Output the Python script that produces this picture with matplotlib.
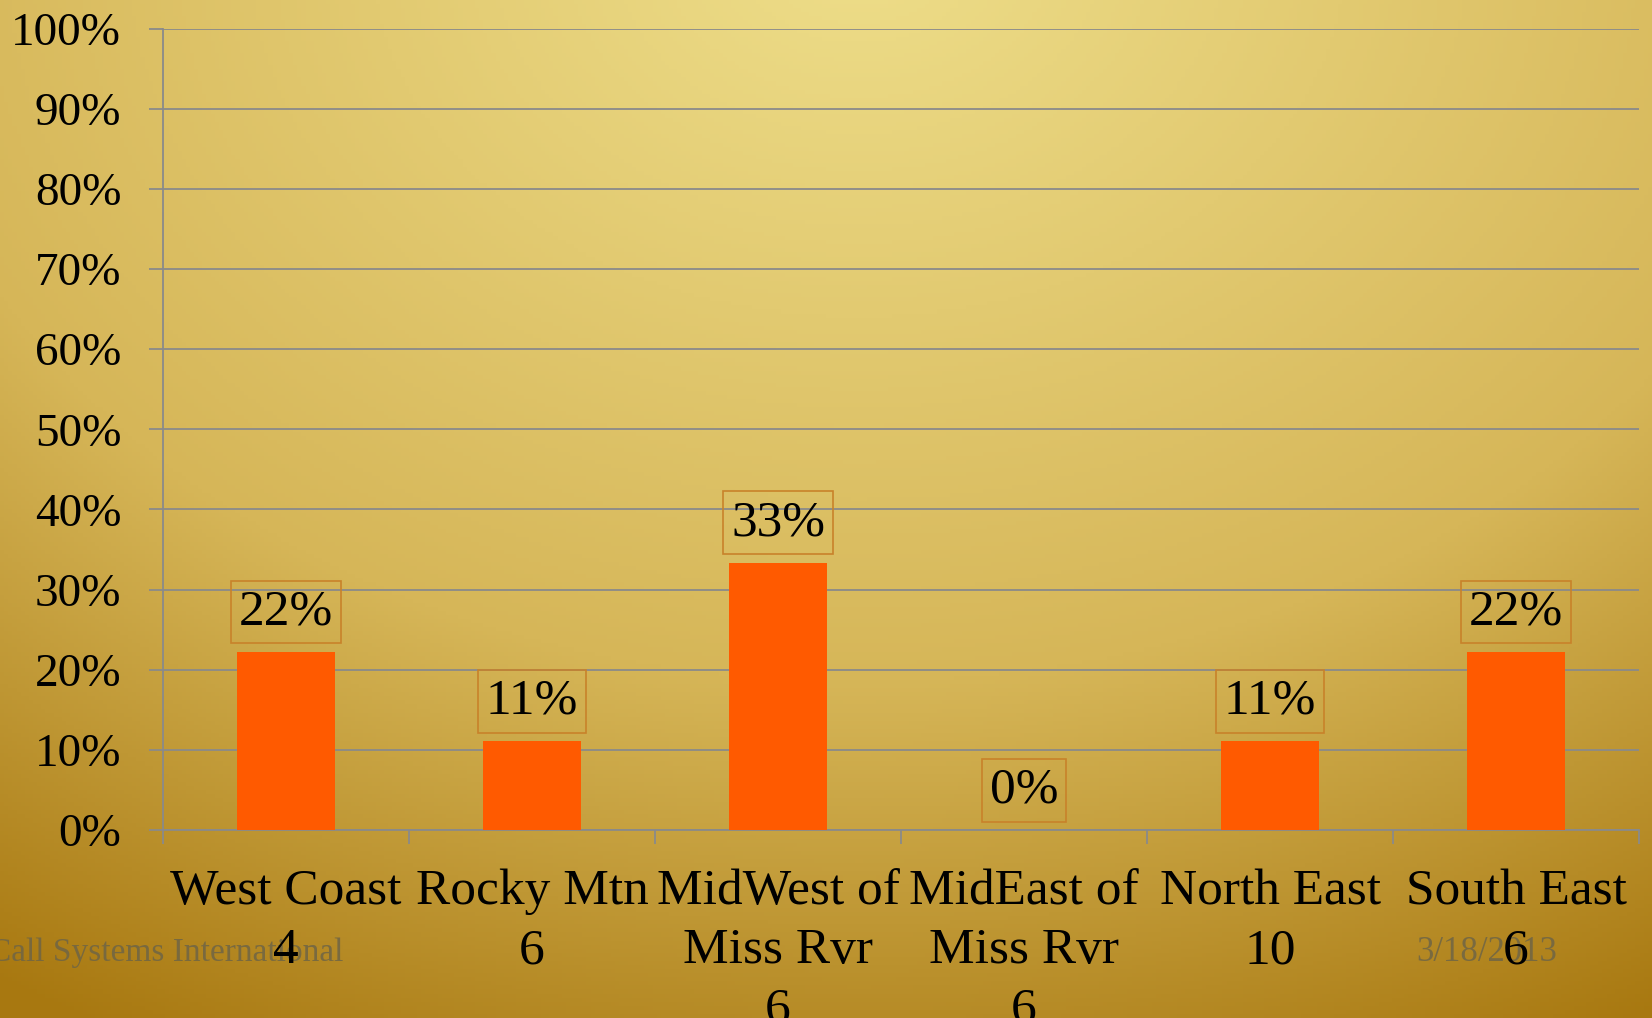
import numpy as np
import matplotlib
matplotlib.use("Agg")
import matplotlib.pyplot as plt

# Données du graphique
regions = ["West Coast\n4", "Rocky Mtn\n6", "MidWest of\nMiss Rvr\n6",
           "MidEast of\nMiss Rvr\n6", "North East\n10", "South East\n6"]
pct_values = [22.22, 11.11, 33.33, 0.0, 11.11, 22.22]
pct_labels = ["22%", "11%", "33%", "0%", "11%", "22%"]
y_ticks = [0, 10, 20, 30, 40, 50, 60, 70, 80, 90, 100]
footer_left = "Call Systems International"
footer_right = "3/18/2013"

W, H, DPI = 1652, 1018, 100
plt.rcParams['font.family'] = ['Liberation Serif', 'DejaVu Serif']

fig = plt.figure(figsize=(W / DPI, H / DPI), dpi=DPI)

# Fond dégradé doré
bg = fig.add_axes([0, 0, 1, 1], zorder=-10)
xx, yy = np.meshgrid(np.linspace(0, 1, 400), np.linspace(0, 1, 250))
d = np.sqrt(((xx - 0.52) / 0.82) ** 2 + ((yy + 0.05) / 1.0) ** 2)
t = np.clip(d / 1.2, 0, 1)
light = np.array([238, 222, 138]) / 255
mid = np.array([214, 182, 88]) / 255
dark = np.array([168, 120, 16]) / 255
t3 = t[..., None]
img = np.where(t3 < 0.6,
               light + (mid - light) * (t3 / 0.6),
               mid + (dark - mid) * ((t3 - 0.6) / 0.4))
bg.imshow(img, aspect='auto', extent=[0, 1, 1, 0])
bg.set_xlim(0, 1)
bg.set_ylim(1, 0)
bg.axis('off')

# Axes principal
ax = fig.add_axes([163 / W, 1 - 830 / H, (1639 - 163) / W, (830 - 28.5) / H])
ax.set_facecolor('none')

grid_color = '#8a8a8a'
x = np.arange(len(regions))
bars = ax.bar(x, pct_values, width=0.4, color='#FF5A00', zorder=3)

ax.set_xlim(-0.5, len(regions) - 0.5)
ax.set_ylim(0, 100)
ax.set_yticks(y_ticks)
ax.set_yticklabels([f"{v}%" for v in y_ticks])
ax.yaxis.grid(True, color=grid_color, linewidth=1.3, zorder=0)
ax.set_axisbelow(True)

ax.set_xticks(x)
ax.set_xticklabels(regions, linespacing=1.35)
ax.set_xticks(np.arange(len(regions) + 1) - 0.5, minor=True)
ax.tick_params(axis='x', which='major', length=0, pad=28, labelsize=37)
ax.tick_params(axis='x', which='minor', length=10, width=1.3, color=grid_color)
ax.tick_params(axis='y', length=10, width=1.3, color=grid_color, pad=20, labelsize=34)

for side in ['top', 'right']:
    ax.spines[side].set_visible(False)
for side in ['left', 'bottom']:
    ax.spines[side].set_color(grid_color)
    ax.spines[side].set_linewidth(1.3)

# Étiquettes de données encadrées
for xi, val, lab in zip(x, pct_values, pct_labels):
    ax.annotate(lab, (xi, val), xytext=(0, 12), textcoords='offset points',
                ha='center', va='bottom', fontsize=37, zorder=4,
                bbox=dict(boxstyle='square,pad=0.16', facecolor='none',
                          edgecolor='#C8822A', linewidth=1.2))

# Pied de page
fig.text(343 / W, 1 - 961 / H, footer_left, ha='right', va='baseline',
         fontsize=24, color='#6f6545', alpha=0.85, zorder=-5)
fig.text(1557 / W, 1 - 961 / H, footer_right, ha='right', va='baseline',
         fontsize=25, color='#6f6545', alpha=0.85, zorder=-5)

fig.savefig("out.png", dpi=DPI)
plt.close(fig)
